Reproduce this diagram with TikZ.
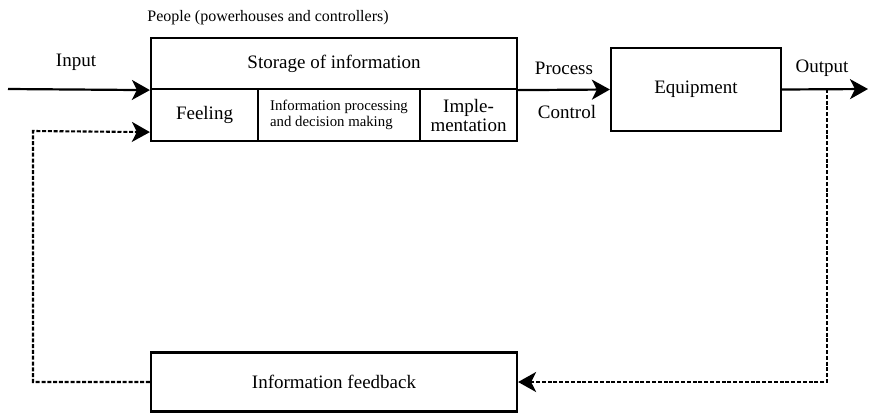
\documentclass[tikz,border=0pt]{standalone}
\usepackage{fontspec}
\setmainfont{Liberation Serif}
\usetikzlibrary{arrows.meta,calc}
\begin{document}
\begin{tikzpicture}[x=1pt,y=-1pt,
  bigtip/.tip={Stealth[length=18pt,width=20pt,inset=5pt]},
  big/.style={font=\fontsize{19}{21}\selectfont},
  box/.style={draw,line width=2.2pt,inner sep=0pt,anchor=center,big},
  flow/.style={line width=2.2pt,-{bigtip}},
  fbline/.style={line width=2.1pt,dash pattern=on 4pt off 1.8pt,-{bigtip}},
  lbl/.style={big,inner sep=0pt}]
\useasboundingbox (0,0) rectangle (869,413);
% people block
\node[box,minimum width=366pt,minimum height=51pt] (storage) at (334,63.5) {Storage of information};
\node[box,minimum width=107pt,minimum height=52pt] (feeling) at (204.5,115) {Feeling};
\node[box,minimum width=162pt,minimum height=52pt,font=\fontsize{14.8}{16}\selectfont,align=left] (proc) at (339,115) {Information processing\\and decision making};
\node[box,minimum width=97pt,minimum height=52pt,align=center,font=\fontsize{19}{19}\selectfont] (impl) at (468.5,115) {Imple-\\mentation};
\node[lbl,font=\fontsize{16}{18}\selectfont] (people) at (268,18) {People (powerhouses and controllers)};
% equipment and feedback blocks
\node[box,minimum width=170pt,minimum height=83pt] (equip) at (696,89.5) {Equipment};
\node[box,minimum width=366pt,minimum height=59pt] (fb) at (334,382) {Information feedback};
% labels
\node[lbl] (inputlbl) at (76,62) {Input};
\node[lbl] (proclbl) at (564,68) {Process};
\node[lbl] (ctrllbl) at (567,112) {Control};
\node[lbl] (outlbl) at (822,68) {Output};
% connectors
\coordinate (in) at (8,89);
\coordinate (out) at (868,89);
\coordinate (tap) at (827,89);
\coordinate (fbin) at ([yshift=10pt]feeling.south west);
\draw[flow] (in) -- (storage.south west);
\draw[flow] (storage.south east) -- (equip.west);
\draw[flow] (equip.east) -- (out);
\draw[fbline] (tap) |- (fb.east);
\draw[fbline] (fb.west) -| (33,131) -- (fbin);
\end{tikzpicture}
\end{document}
